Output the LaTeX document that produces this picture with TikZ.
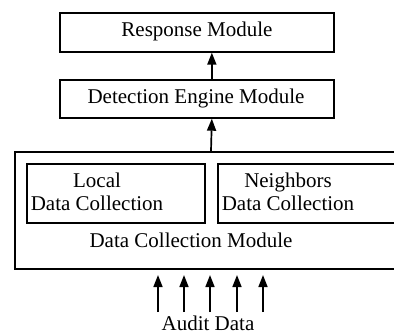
\documentclass[tikz,border=0pt]{standalone}
\usepackage{fontspec}
\setmainfont{Liberation Serif}
\usetikzlibrary{arrows.meta}
\begin{document}
\begin{tikzpicture}[x=1pt,y=-1pt,
  box/.style={draw,line width=1.7pt,inner sep=0pt,anchor=north west},
  lbl/.style={inner sep=0pt,font=\fontsize{21}{23.5}\selectfont,align=center},
  arr/.style={line width=1.7pt,-{Triangle[width=9pt,length=12pt]}}]
\clip (0,0) rectangle (394,334);
\fill[white] (0,0) rectangle (394,334);
\node[box,minimum width=274pt,minimum height=39pt] (resp) at (59,12) {};
\node[lbl] (respt) at (197,31) {Response Module};
\node[box,minimum width=274pt,minimum height=38pt] (det) at (59,79) {};
\node[lbl] (dett) at (196,98) {Detection Engine Module};
\node[box,minimum width=400pt,minimum height=117pt] (dcm) at (14,151) {};
\node[box,minimum width=178pt,minimum height=59pt] (loc) at (26,163) {};
\node[lbl] (loct) at (97,192) {Local\\Data Collection};
\node[box,minimum width=200pt,minimum height=59pt] (nei) at (217,163) {};
\node[lbl] (neit) at (288,192) {Neighbors\\Data Collection};
\node[lbl] (dcmt) at (191,240) {Data Collection Module};
\node[lbl] (audit) at (208,323) {Audit Data};
\draw[arr] ([xshift=15pt]det.north) -- ([xshift=15pt]resp.south);
\draw[arr] (dcm.north -| 211,0) -- ([xshift=15pt]det.south);
\foreach \i/\xx in {1/158,2/184,3/210,4/237,5/263}{
  \coordinate (s\i) at (\xx,312);
  \coordinate (e\i) at (\xx,275);
  \draw[arr] (s\i) -- (e\i);
}
\end{tikzpicture}
\end{document}
